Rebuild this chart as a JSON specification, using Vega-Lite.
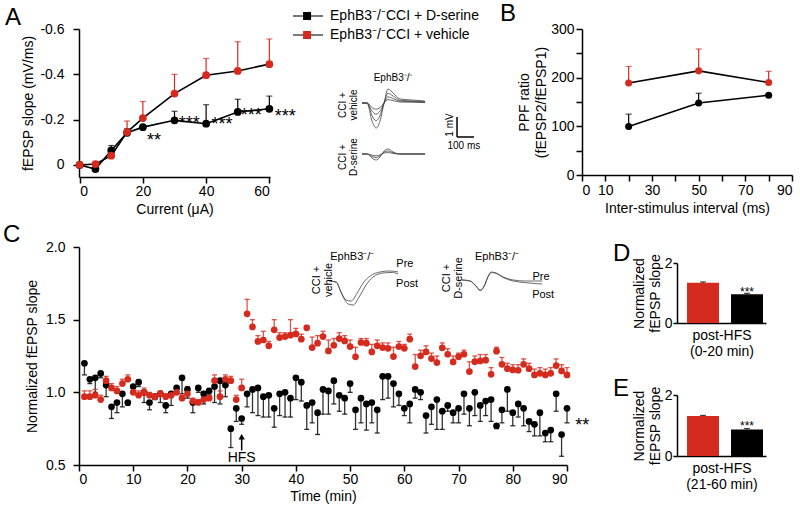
{
  "$schema": "https://vega.github.io/schema/vega-lite/v6.json",
  "autosize": {"type": "none"},
  "padding": {"left": 79, "top": 29, "right": 721, "bottom": 479},
  "background": "white",
  "bounds": "flush",
  "spacing": 218,
  "config": {
    "font": "Liberation Sans",
    "view": {"stroke": null},
    "axis": {"grid": false, "domainColor": "#000", "tickColor": "#000", "labelColor": "#000", "titleColor": "#000", "labelFontSize": 14, "titleFontSize": 14, "titleFontWeight": "normal", "domainWidth": 1.5, "tickWidth": 1.5, "tickSize": 6, "labelFont": "Liberation Sans", "titleFont": "Liberation Sans", "labelOverlap": false},
    "title": {"fontSize": 24, "fontWeight": "normal", "anchor": "start", "frame": "group", "color": "#000", "font": "Liberation Sans", "baseline": "alphabetic"},
    "text": {"font": "Liberation Sans", "color": "#000"}
  },
  "datasets": {
    "io": [
      {"cur": 0, "g": "D-serine", "slope": 0, "top": 0},
      {"cur": 5, "g": "D-serine", "slope": 0.018, "top": 0.018},
      {"cur": 10, "g": "D-serine", "slope": -0.064, "top": -0.086},
      {"cur": 15, "g": "D-serine", "slope": -0.142, "top": -0.16},
      {"cur": 20, "g": "D-serine", "slope": -0.167, "top": -0.17},
      {"cur": 30, "g": "D-serine", "slope": -0.197, "top": -0.237},
      {"cur": 40, "g": "D-serine", "slope": -0.182, "top": -0.266},
      {"cur": 50, "g": "D-serine", "slope": -0.234, "top": -0.29},
      {"cur": 60, "g": "D-serine", "slope": -0.248, "top": -0.304},
      {"cur": 0, "g": "vehicle", "slope": 0, "top": 0},
      {"cur": 5, "g": "vehicle", "slope": -0.004, "top": -0.004},
      {"cur": 10, "g": "vehicle", "slope": -0.041, "top": -0.041},
      {"cur": 15, "g": "vehicle", "slope": -0.145, "top": -0.194},
      {"cur": 20, "g": "vehicle", "slope": -0.207, "top": -0.28},
      {"cur": 30, "g": "vehicle", "slope": -0.315, "top": -0.4},
      {"cur": 40, "g": "vehicle", "slope": -0.396, "top": -0.47},
      {"cur": 50, "g": "vehicle", "slope": -0.415, "top": -0.544},
      {"cur": 60, "g": "vehicle", "slope": -0.445, "top": -0.556}
    ],
    "ppf": [
      {"isi": 20, "g": "D-serine", "r": 99.5, "top": 125},
      {"isi": 50, "g": "D-serine", "r": 148, "top": 168},
      {"isi": 80, "g": "D-serine", "r": 164, "top": 166},
      {"isi": 20, "g": "vehicle", "r": 189, "top": 223},
      {"isi": 50, "g": "vehicle", "r": 214, "top": 259},
      {"isi": 80, "g": "vehicle", "r": 190, "top": 213}
    ],
    "tr": [
      {"id": "v1", "ms": 541, "mv": -1.7}, {"id": "v1", "ms": 571, "mv": -1.7}, {"id": "v1", "ms": 600, "mv": -2.6}, {"id": "v1", "ms": 624, "mv": -2.95}, {"id": "v1", "ms": 647, "mv": -2.6}, {"id": "v1", "ms": 671, "mv": -1.7}, {"id": "v1", "ms": 694, "mv": -1.0}, {"id": "v1", "ms": 724, "mv": -1.2}, {"id": "v1", "ms": 765, "mv": -1.5}, {"id": "v1", "ms": 835, "mv": -1.55}, {"id": "v1", "ms": 912, "mv": -1.6},
      {"id": "v2", "ms": 541, "mv": -1.7}, {"id": "v2", "ms": 571, "mv": -1.7}, {"id": "v2", "ms": 600, "mv": -2.33}, {"id": "v2", "ms": 624, "mv": -2.58}, {"id": "v2", "ms": 647, "mv": -2.33}, {"id": "v2", "ms": 671, "mv": -1.7}, {"id": "v2", "ms": 694, "mv": -1.21}, {"id": "v2", "ms": 724, "mv": -1.35}, {"id": "v2", "ms": 765, "mv": -1.56}, {"id": "v2", "ms": 835, "mv": -1.6}, {"id": "v2", "ms": 912, "mv": -1.64},
      {"id": "v3", "ms": 541, "mv": -1.7}, {"id": "v3", "ms": 571, "mv": -1.7}, {"id": "v3", "ms": 600, "mv": -2.1}, {"id": "v3", "ms": 624, "mv": -2.26}, {"id": "v3", "ms": 647, "mv": -2.1}, {"id": "v3", "ms": 671, "mv": -1.7}, {"id": "v3", "ms": 694, "mv": -1.39}, {"id": "v3", "ms": 724, "mv": -1.48}, {"id": "v3", "ms": 765, "mv": -1.61}, {"id": "v3", "ms": 835, "mv": -1.63}, {"id": "v3", "ms": 912, "mv": -1.66},
      {"id": "v4", "ms": 541, "mv": -1.7}, {"id": "v4", "ms": 571, "mv": -1.7}, {"id": "v4", "ms": 600, "mv": -1.93}, {"id": "v4", "ms": 624, "mv": -2.01}, {"id": "v4", "ms": 647, "mv": -1.93}, {"id": "v4", "ms": 671, "mv": -1.7}, {"id": "v4", "ms": 694, "mv": -1.53}, {"id": "v4", "ms": 724, "mv": -1.58}, {"id": "v4", "ms": 765, "mv": -1.65}, {"id": "v4", "ms": 835, "mv": -1.66}, {"id": "v4", "ms": 912, "mv": -1.68},
      {"id": "d1", "ms": 541, "mv": -4.25}, {"id": "d1", "ms": 571, "mv": -4.25}, {"id": "d1", "ms": 600, "mv": -4.45}, {"id": "d1", "ms": 624, "mv": -4.55}, {"id": "d1", "ms": 647, "mv": -4.4}, {"id": "d1", "ms": 671, "mv": -4.1}, {"id": "d1", "ms": 694, "mv": -4.0}, {"id": "d1", "ms": 724, "mv": -4.15}, {"id": "d1", "ms": 765, "mv": -4.25}, {"id": "d1", "ms": 835, "mv": -4.25}, {"id": "d1", "ms": 912, "mv": -4.25},
      {"id": "d2", "ms": 541, "mv": -4.25}, {"id": "d2", "ms": 571, "mv": -4.25}, {"id": "d2", "ms": 600, "mv": -4.37}, {"id": "d2", "ms": 624, "mv": -4.43}, {"id": "d2", "ms": 647, "mv": -4.34}, {"id": "d2", "ms": 671, "mv": -4.16}, {"id": "d2", "ms": 694, "mv": -4.1}, {"id": "d2", "ms": 724, "mv": -4.19}, {"id": "d2", "ms": 765, "mv": -4.25}, {"id": "d2", "ms": 835, "mv": -4.25}, {"id": "d2", "ms": 912, "mv": -4.25},
      {"id": "d3", "ms": 541, "mv": -4.25}, {"id": "d3", "ms": 571, "mv": -4.25}, {"id": "d3", "ms": 600, "mv": -4.31}, {"id": "d3", "ms": 624, "mv": -4.34}, {"id": "d3", "ms": 647, "mv": -4.3}, {"id": "d3", "ms": 671, "mv": -4.2}, {"id": "d3", "ms": 694, "mv": -4.18}, {"id": "d3", "ms": 724, "mv": -4.22}, {"id": "d3", "ms": 765, "mv": -4.25}, {"id": "d3", "ms": 835, "mv": -4.25}, {"id": "d3", "ms": 912, "mv": -4.25}
    ],
    "ctr": [
      {"id": "vpre", "t": 46.13, "v": 1.766}, {"id": "vpre", "t": 47.42, "v": 1.759}, {"id": "vpre", "t": 48.34, "v": 1.69}, {"id": "vpre", "t": 49.26, "v": 1.635}, {"id": "vpre", "t": 50.18, "v": 1.628}, {"id": "vpre", "t": 51.29, "v": 1.683}, {"id": "vpre", "t": 52.4, "v": 1.752}, {"id": "vpre", "t": 53.69, "v": 1.8}, {"id": "vpre", "t": 55.54, "v": 1.828}, {"id": "vpre", "t": 57.38, "v": 1.835}, {"id": "vpre", "t": 58.86, "v": 1.828},
      {"id": "vpost", "t": 46.13, "v": 1.766}, {"id": "vpost", "t": 47.42, "v": 1.759}, {"id": "vpost", "t": 48.52, "v": 1.67}, {"id": "vpost", "t": 49.63, "v": 1.608}, {"id": "vpost", "t": 50.55, "v": 1.601}, {"id": "vpost", "t": 51.66, "v": 1.656}, {"id": "vpost", "t": 52.95, "v": 1.739}, {"id": "vpost", "t": 54.24, "v": 1.794}, {"id": "vpost", "t": 56.09, "v": 1.821}, {"id": "vpost", "t": 57.75, "v": 1.825}, {"id": "vpost", "t": 58.86, "v": 1.814},
      {"id": "dpre", "t": 70.66, "v": 1.773}, {"id": "dpre", "t": 72.14, "v": 1.766}, {"id": "dpre", "t": 73.25, "v": 1.732}, {"id": "dpre", "t": 73.99, "v": 1.704}, {"id": "dpre", "t": 74.72, "v": 1.732}, {"id": "dpre", "t": 75.46, "v": 1.8}, {"id": "dpre", "t": 76.01, "v": 1.828}, {"id": "dpre", "t": 76.94, "v": 1.821}, {"id": "dpre", "t": 78.23, "v": 1.794}, {"id": "dpre", "t": 80.07, "v": 1.773}, {"id": "dpre", "t": 82.29, "v": 1.766}, {"id": "dpre", "t": 85.42, "v": 1.766},
      {"id": "dpost", "t": 70.66, "v": 1.773}, {"id": "dpost", "t": 72.14, "v": 1.766}, {"id": "dpost", "t": 73.25, "v": 1.728}, {"id": "dpost", "t": 73.99, "v": 1.7}, {"id": "dpost", "t": 74.72, "v": 1.728}, {"id": "dpost", "t": 75.46, "v": 1.796}, {"id": "dpost", "t": 76.01, "v": 1.824}, {"id": "dpost", "t": 76.94, "v": 1.818}, {"id": "dpost", "t": 78.23, "v": 1.79}, {"id": "dpost", "t": 80.07, "v": 1.766}, {"id": "dpost", "t": 82.29, "v": 1.755}, {"id": "dpost", "t": 85.42, "v": 1.745}
    ],
    "ts": [
      {"t":1,"g":"D-serine","v":1.20,"e":1.12},{"t":2,"g":"D-serine","v":1.09,"e":1.06},{"t":3,"g":"D-serine","v":1.10,"e":1.00},{"t":4,"g":"D-serine","v":1.13,"e":1.10},{"t":5,"g":"D-serine","v":1.05,"e":0.97},
      {"t":6,"g":"D-serine","v":0.90,"e":0.82},{"t":7,"g":"D-serine","v":0.93,"e":0.86},{"t":8,"g":"D-serine","v":0.99,"e":0.90},{"t":9,"g":"D-serine","v":0.93,"e":0.91},{"t":10,"g":"D-serine","v":1.04,"e":1.01},
      {"t":11,"g":"D-serine","v":1.07,"e":1.04},{"t":12,"g":"D-serine","v":1.00,"e":0.93},{"t":13,"g":"D-serine","v":0.93,"e":0.88},{"t":14,"g":"D-serine","v":0.97,"e":0.95},{"t":15,"g":"D-serine","v":0.99,"e":0.93},
      {"t":16,"g":"D-serine","v":0.91,"e":0.86},{"t":17,"g":"D-serine","v":0.99,"e":0.91},{"t":18,"g":"D-serine","v":1.03,"e":1.00},{"t":19,"g":"D-serine","v":1.10,"e":0.99},{"t":20,"g":"D-serine","v":1.02,"e":0.96},
      {"t":21,"g":"D-serine","v":0.93,"e":0.86},{"t":22,"g":"D-serine","v":1.03,"e":1.00},{"t":23,"g":"D-serine","v":0.99,"e":0.92},{"t":24,"g":"D-serine","v":1.01,"e":0.98},{"t":25,"g":"D-serine","v":1.04,"e":0.93},
      {"t":26,"g":"D-serine","v":1.08,"e":0.92},{"t":27,"g":"D-serine","v":1.05,"e":0.97},{"t":28,"g":"D-serine","v":0.75,"e":0.62},{"t":29,"g":"D-serine","v":0.89,"e":0.80},{"t":30,"g":"D-serine","v":0.82,"e":0.78},
      {"t":31,"g":"D-serine","v":0.99,"e":0.90},{"t":32,"g":"D-serine","v":1.02,"e":0.86},{"t":33,"g":"D-serine","v":1.03,"e":0.84},{"t":34,"g":"D-serine","v":0.97,"e":0.83},{"t":35,"g":"D-serine","v":0.98,"e":0.83},
      {"t":36,"g":"D-serine","v":0.89,"e":0.76},{"t":37,"g":"D-serine","v":0.99,"e":0.84},{"t":38,"g":"D-serine","v":1.00,"e":0.83},{"t":39,"g":"D-serine","v":0.96,"e":0.83},{"t":40,"g":"D-serine","v":1.10,"e":0.95},
      {"t":41,"g":"D-serine","v":1.07,"e":0.94},{"t":42,"g":"D-serine","v":0.91,"e":0.745},{"t":43,"g":"D-serine","v":0.93,"e":0.79},{"t":44,"g":"D-serine","v":0.86,"e":0.71},{"t":45,"g":"D-serine","v":1.02,"e":0.85},
      {"t":46,"g":"D-serine","v":1.01,"e":0.85},{"t":47,"g":"D-serine","v":1.08,"e":0.92},{"t":48,"g":"D-serine","v":0.98,"e":0.87},{"t":49,"g":"D-serine","v":0.96,"e":0.85},{"t":50,"g":"D-serine","v":1.06,"e":1.00},
      {"t":51,"g":"D-serine","v":0.88,"e":0.745},{"t":52,"g":"D-serine","v":0.96,"e":0.79},{"t":53,"g":"D-serine","v":0.92,"e":0.74},{"t":54,"g":"D-serine","v":0.93,"e":0.79},{"t":55,"g":"D-serine","v":0.88,"e":0.72},
      {"t":56,"g":"D-serine","v":1.11,"e":0.95},{"t":57,"g":"D-serine","v":1.11,"e":0.96},{"t":58,"g":"D-serine","v":1.06,"e":0.90},{"t":59,"g":"D-serine","v":0.99,"e":0.91},{"t":60,"g":"D-serine","v":0.89,"e":0.84},
      {"t":61,"g":"D-serine","v":0.92,"e":0.79},{"t":62,"g":"D-serine","v":1.02,"e":0.96},{"t":63,"g":"D-serine","v":1.00,"e":0.95},{"t":64,"g":"D-serine","v":0.84,"e":0.72},{"t":65,"g":"D-serine","v":0.90,"e":0.78},
      {"t":66,"g":"D-serine","v":0.95,"e":0.745},{"t":67,"g":"D-serine","v":0.87,"e":0.745},{"t":68,"g":"D-serine","v":0.91,"e":0.87},{"t":69,"g":"D-serine","v":0.86,"e":0.79},{"t":70,"g":"D-serine","v":0.89,"e":0.79},
      {"t":71,"g":"D-serine","v":0.99,"e":0.85},{"t":72,"g":"D-serine","v":0.89,"e":0.77},{"t":73,"g":"D-serine","v":1.00,"e":0.84},{"t":74,"g":"D-serine","v":0.91,"e":0.80},{"t":75,"g":"D-serine","v":0.94,"e":0.84},
      {"t":76,"g":"D-serine","v":0.95,"e":0.80},{"t":77,"g":"D-serine","v":0.77,"e":0.75},{"t":78,"g":"D-serine","v":0.88,"e":0.79},{"t":79,"g":"D-serine","v":1.02,"e":0.87},{"t":80,"g":"D-serine","v":0.86,"e":0.77},
      {"t":81,"g":"D-serine","v":0.92,"e":0.83},{"t":82,"g":"D-serine","v":0.89,"e":0.77},{"t":83,"g":"D-serine","v":0.80,"e":0.73},{"t":84,"g":"D-serine","v":0.78,"e":0.70},{"t":85,"g":"D-serine","v":0.86,"e":0.70},
      {"t":86,"g":"D-serine","v":0.72,"e":0.66},{"t":87,"g":"D-serine","v":0.74,"e":0.66},{"t":88,"g":"D-serine","v":0.99,"e":0.87},{"t":89,"g":"D-serine","v":0.71,"e":0.56},{"t":90,"g":"D-serine","v":0.89,"e":0.79},
      {"t":1,"g":"vehicle","v":0.97,"e":1.01},{"t":2,"g":"vehicle","v":0.97,"e":1.01},{"t":3,"g":"vehicle","v":0.98,"e":1.02},{"t":4,"g":"vehicle","v":0.95,"e":0.98},{"t":5,"g":"vehicle","v":1.08,"e":1.11},
      {"t":6,"g":"vehicle","v":1.03,"e":1.06},{"t":7,"g":"vehicle","v":1.01,"e":1.04},{"t":8,"g":"vehicle","v":1.06,"e":1.09},{"t":9,"g":"vehicle","v":1.09,"e":1.12},{"t":10,"g":"vehicle","v":1.00,"e":1.03},
      {"t":11,"g":"vehicle","v":0.98,"e":1.01},{"t":12,"g":"vehicle","v":1.00,"e":1.03},{"t":13,"g":"vehicle","v":0.98,"e":1.00},{"t":14,"g":"vehicle","v":0.97,"e":0.99},{"t":15,"g":"vehicle","v":0.99,"e":1.01},
      {"t":16,"g":"vehicle","v":0.97,"e":0.99},{"t":17,"g":"vehicle","v":0.98,"e":1.00},{"t":18,"g":"vehicle","v":1.00,"e":1.02},{"t":19,"g":"vehicle","v":0.96,"e":0.98},{"t":20,"g":"vehicle","v":0.99,"e":1.04},
      {"t":21,"g":"vehicle","v":0.94,"e":0.96},{"t":22,"g":"vehicle","v":0.93,"e":0.95},{"t":23,"g":"vehicle","v":0.95,"e":0.97},{"t":24,"g":"vehicle","v":0.96,"e":0.98},{"t":25,"g":"vehicle","v":1.08,"e":1.12},
      {"t":26,"g":"vehicle","v":0.97,"e":1.01},{"t":27,"g":"vehicle","v":1.09,"e":1.12},{"t":28,"g":"vehicle","v":1.08,"e":1.11},{"t":29,"g":"vehicle","v":0.95,"e":0.98},{"t":30,"g":"vehicle","v":1.03,"e":1.09},
      {"t":31,"g":"vehicle","v":1.54,"e":1.64},{"t":32,"g":"vehicle","v":1.45,"e":1.50},{"t":33,"g":"vehicle","v":1.35,"e":1.39},{"t":34,"g":"vehicle","v":1.36,"e":1.42},{"t":35,"g":"vehicle","v":1.32,"e":1.35},
      {"t":36,"g":"vehicle","v":1.43,"e":1.50},{"t":37,"g":"vehicle","v":1.377,"e":1.41},{"t":38,"g":"vehicle","v":1.384,"e":1.41},{"t":39,"g":"vehicle","v":1.393,"e":1.50},{"t":40,"g":"vehicle","v":1.402,"e":1.44},
      {"t":41,"g":"vehicle","v":1.366,"e":1.40},{"t":42,"g":"vehicle","v":1.444,"e":1.46},{"t":43,"g":"vehicle","v":1.308,"e":1.38},{"t":44,"g":"vehicle","v":1.338,"e":1.39},{"t":45,"g":"vehicle","v":1.384,"e":1.42},
      {"t":46,"g":"vehicle","v":1.285,"e":1.36},{"t":47,"g":"vehicle","v":1.324,"e":1.37},{"t":48,"g":"vehicle","v":1.37,"e":1.41},{"t":49,"g":"vehicle","v":1.354,"e":1.39},{"t":50,"g":"vehicle","v":1.315,"e":1.36},
      {"t":51,"g":"vehicle","v":1.244,"e":1.31},{"t":52,"g":"vehicle","v":1.343,"e":1.37},{"t":53,"g":"vehicle","v":1.338,"e":1.37},{"t":54,"g":"vehicle","v":1.278,"e":1.33},{"t":55,"g":"vehicle","v":1.32,"e":1.36},
      {"t":56,"g":"vehicle","v":1.308,"e":1.34},{"t":57,"g":"vehicle","v":1.303,"e":1.34},{"t":58,"g":"vehicle","v":1.246,"e":1.31},{"t":59,"g":"vehicle","v":1.315,"e":1.35},{"t":60,"g":"vehicle","v":1.303,"e":1.33},
      {"t":61,"g":"vehicle","v":1.366,"e":1.40},{"t":62,"g":"vehicle","v":1.177,"e":1.26},{"t":63,"g":"vehicle","v":1.251,"e":1.29},{"t":64,"g":"vehicle","v":1.278,"e":1.32},{"t":65,"g":"vehicle","v":1.232,"e":1.27},
      {"t":66,"g":"vehicle","v":1.205,"e":1.25},{"t":67,"g":"vehicle","v":1.306,"e":1.34},{"t":68,"g":"vehicle","v":1.262,"e":1.30},{"t":69,"g":"vehicle","v":1.209,"e":1.25},{"t":70,"g":"vehicle","v":1.244,"e":1.27},
      {"t":71,"g":"vehicle","v":1.262,"e":1.29},{"t":72,"g":"vehicle","v":1.143,"e":1.21},{"t":73,"g":"vehicle","v":1.211,"e":1.25},{"t":74,"g":"vehicle","v":1.216,"e":1.26},{"t":75,"g":"vehicle","v":1.221,"e":1.26},
      {"t":76,"g":"vehicle","v":1.124,"e":1.17},{"t":77,"g":"vehicle","v":1.283,"e":1.31},{"t":78,"g":"vehicle","v":1.193,"e":1.24},{"t":79,"g":"vehicle","v":1.163,"e":1.20},{"t":80,"g":"vehicle","v":1.154,"e":1.19},
      {"t":81,"g":"vehicle","v":1.152,"e":1.19},{"t":82,"g":"vehicle","v":1.193,"e":1.23},{"t":83,"g":"vehicle","v":1.163,"e":1.20},{"t":84,"g":"vehicle","v":1.12,"e":1.16},{"t":85,"g":"vehicle","v":1.131,"e":1.17},
      {"t":86,"g":"vehicle","v":1.12,"e":1.16},{"t":87,"g":"vehicle","v":1.131,"e":1.17},{"t":88,"g":"vehicle","v":1.184,"e":1.23},{"t":89,"g":"vehicle","v":1.147,"e":1.19},{"t":90,"g":"vehicle","v":1.12,"e":1.17}
    ],
    "bars": [
      {"panel": "D", "g": "vehicle", "val": 1.34, "err": 1.37},
      {"panel": "D", "g": "D-serine", "val": 0.96, "err": 0.99},
      {"panel": "E", "g": "vehicle", "val": 1.31, "err": 1.33},
      {"panel": "E", "g": "D-serine", "val": 0.87, "err": 0.9}
    ]
  },
  "vconcat": [
    {
      "hconcat": [
        {
          "width": 191, "height": 148,
          "title": {"text": "A", "dx": -74, "offset": -8},
          "layer": [
            {"data": {"name": "io"}, "mark": {"type": "rule", "strokeWidth": 1.2}, "encoding": {
              "x": {"field": "cur", "type": "quantitative", "scale": {"domain": [-0.2, 60.2], "nice": false}, "axis": {"values": [0, 10, 20, 30, 40, 50, 60], "title": "Current (μA)", "labelPadding": 1, "titlePadding": 4}},
              "y": {"field": "slope", "type": "quantitative", "scale": {"domain": [0.053, -0.6], "nice": false, "zero": false}, "axis": {"values": [0, -0.1, -0.2, -0.3, -0.4, -0.5, -0.6], "labelExpr": "datum.value == 0 ? '0' : (round(abs(datum.value) * 10) % 2 == 0 ? '-' + format(abs(datum.value), '.1f') : '')", "title": "fEPSP slope (mV/ms)", "labelPadding": 9, "titlePadding": 4}},
              "y2": {"field": "top"},
              "stroke": {"field": "g", "type": "nominal", "scale": {"domain": ["D-serine", "vehicle"], "range": ["#000000", "#d52b1e"]}, "legend": null}}},
            {"data": {"name": "io"}, "mark": {"type": "tick", "orient": "horizontal", "size": 6, "thickness": 1.2}, "encoding": {"x": {"field": "cur", "type": "quantitative"}, "y": {"field": "top", "type": "quantitative"}, "fill": {"field": "g", "type": "nominal", "scale": {"domain": ["D-serine", "vehicle"], "range": ["#000000", "#d52b1e"]}, "legend": null}}},
            {"data": {"name": "io"}, "mark": {"type": "line", "color": "#000", "strokeWidth": 1.6}, "encoding": {"x": {"field": "cur", "type": "quantitative"}, "y": {"field": "slope", "type": "quantitative"}, "detail": {"field": "g", "type": "nominal"}}},
            {"data": {"name": "io"}, "mark": {"type": "point", "filled": true, "size": 60, "opacity": 1}, "encoding": {"x": {"field": "cur", "type": "quantitative"}, "y": {"field": "slope", "type": "quantitative"}, "color": {"field": "g", "type": "nominal", "scale": {"domain": ["D-serine", "vehicle"], "range": ["#000000", "#d52b1e"]}, "legend": null}}},
            {"data": {"values": [{"s": "**", "x": 23.5, "y": -0.13}, {"s": "***", "x": 34.7, "y": -0.204}, {"s": "***", "x": 45, "y": -0.2}, {"s": "***", "x": 54.3, "y": -0.24}, {"s": "***", "x": 65, "y": -0.235}]}, "mark": {"type": "text", "fontSize": 18, "baseline": "middle", "dy": 5}, "encoding": {"x": {"field": "x", "type": "quantitative"}, "y": {"field": "y", "type": "quantitative"}, "text": {"field": "s"}}}
          ]
        },
        {
          "width": 312, "height": 148,
          "layer": [
            {"data": {"name": "tr"}, "mark": {"type": "line", "strokeWidth": 0.8, "color": "#444", "interpolate": "monotone"}, "encoding": {"x": {"field": "ms", "type": "quantitative", "scale": {"domain": [0, 1835], "nice": false}, "axis": null}, "y": {"field": "mv", "type": "quantitative", "scale": {"domain": [-5.4, 2], "nice": false, "zero": false}, "axis": null}, "detail": {"field": "id", "type": "nominal"}}},
            {"data": {"values": [{}]}, "mark": {"type": "rule", "strokeWidth": 1.5, "color": "#000"}, "encoding": {"x": {"datum": 1100}, "y": {"datum": -2.4}, "y2": {"datum": -3.4}}},
            {"data": {"values": [{}]}, "mark": {"type": "rule", "strokeWidth": 1.5, "color": "#000"}, "encoding": {"x": {"datum": 1100}, "x2": {"datum": 1200}, "y": {"datum": -3.4}}},
            {"data": {"values": [{}]}, "mark": {"type": "text", "fontSize": 10, "baseline": "middle"}, "encoding": {"x": {"datum": 724}, "y": {"datum": -0.45}, "text": {"value": "EphB3⁻/⁻"}}},
            {"data": {"values": [{}]}, "mark": {"type": "text", "fontSize": 10, "baseline": "middle", "angle": 270, "lineHeight": 11}, "encoding": {"x": {"datum": 429}, "y": {"datum": -1.8}, "text": {"value": ["CCI +", "vehicle"]}}},
            {"data": {"values": [{}]}, "mark": {"type": "text", "fontSize": 10, "baseline": "middle", "angle": 270, "lineHeight": 11}, "encoding": {"x": {"datum": 429}, "y": {"datum": -4.4}, "text": {"value": ["CCI +", "D-serine"]}}},
            {"data": {"values": [{}]}, "mark": {"type": "text", "fontSize": 10, "baseline": "middle", "angle": 270}, "encoding": {"x": {"datum": 1059}, "y": {"datum": -2.8}, "text": {"value": "1 mV"}}},
            {"data": {"values": [{}]}, "mark": {"type": "text", "fontSize": 10, "baseline": "middle"}, "encoding": {"x": {"datum": 1140}, "y": {"datum": -3.85}, "text": {"value": "100 ms"}}},
            {"data": {"values": [{}]}, "mark": {"type": "rule", "strokeWidth": 1.2, "color": "#222"}, "encoding": {"x": {"datum": 135}, "x2": {"datum": 312}, "y": {"datum": 2.65}}},
            {"data": {"values": [{}]}, "mark": {"type": "point", "shape": "square", "filled": true, "size": 64, "color": "#000", "opacity": 1}, "encoding": {"x": {"datum": 218}, "y": {"datum": 2.65}}},
            {"data": {"values": [{}]}, "mark": {"type": "text", "fontSize": 14, "baseline": "middle", "align": "left"}, "encoding": {"x": {"datum": 353}, "y": {"datum": 2.65}, "text": {"value": "EphB3⁻/⁻CCI + D-serine"}}},
            {"data": {"values": [{}]}, "mark": {"type": "rule", "strokeWidth": 1.2, "color": "#222"}, "encoding": {"x": {"datum": 135}, "x2": {"datum": 312}, "y": {"datum": 1.7}}},
            {"data": {"values": [{}]}, "mark": {"type": "point", "shape": "square", "filled": true, "size": 64, "color": "#d52b1e", "opacity": 1}, "encoding": {"x": {"datum": 218}, "y": {"datum": 1.7}}},
            {"data": {"values": [{}]}, "mark": {"type": "text", "fontSize": 14, "baseline": "middle", "align": "left"}, "encoding": {"x": {"datum": 353}, "y": {"datum": 1.7}, "text": {"value": "EphB3⁻/⁻CCI + vehicle"}}}
          ]
        },
        {
          "width": 210, "height": 146,
          "title": {"text": "B", "dx": -82, "offset": -4},
          "data": {"name": "ppf"},
          "encoding": {
            "x": {"field": "isi", "type": "quantitative", "scale": {"domain": [0, 90], "nice": false}, "axis": {"values": [0, 10, 20, 30, 40, 50, 60, 70, 80, 90], "labelExpr": "indexof([0, 10, 30, 50, 70, 90], datum.value) >= 0 ? datum.label : ''", "title": "Inter-stimulus interval (ms)", "labelPadding": 2, "titlePadding": 4}},
            "y": {"field": "r", "type": "quantitative", "scale": {"domain": [0, 300], "nice": false}, "axis": {"values": [0, 50, 100, 150, 200, 250, 300], "labelExpr": "datum.value % 100 == 0 ? datum.label : ''", "title": ["PPF ratio", "(fEPSP2/fEPSP1)"], "labelPadding": 2, "titlePadding": 2, "titleLineHeight": 17}}
          },
          "layer": [
            {"mark": {"type": "rule", "strokeWidth": 1.2}, "encoding": {"y2": {"field": "top"}, "stroke": {"field": "g", "type": "nominal", "legend": null}}},
            {"mark": {"type": "tick", "orient": "horizontal", "size": 6, "thickness": 1.2}, "encoding": {"y": {"field": "top", "type": "quantitative"}, "fill": {"field": "g", "type": "nominal", "legend": null}}},
            {"mark": {"type": "line", "color": "#000", "strokeWidth": 1.6}, "encoding": {"detail": {"field": "g", "type": "nominal"}}},
            {"mark": {"type": "point", "filled": true, "size": 50, "opacity": 1}, "encoding": {"color": {"field": "g", "type": "nominal", "legend": null}}}
          ]
        }
      ],
      "spacing": 0,
      "bounds": "flush"
    },
    {
      "hconcat": [
        {
          "width": 488, "height": 218,
          "title": {"text": "C", "dx": -76, "offset": -7},
          "layer": [
            {"data": {"name": "ts"}, "mark": {"type": "rule", "strokeWidth": 1.3, "strokeOpacity": 0.8}, "encoding": {
              "x": {"field": "t", "type": "quantitative", "scale": {"domain": [0, 90], "nice": false}, "axis": {"values": [0, 10, 20, 30, 40, 50, 60, 70, 80, 90], "title": "Time (min)", "labelPadding": 1, "titlePadding": 3}},
              "y": {"field": "v", "type": "quantitative", "scale": {"domain": [0.5, 2.0], "nice": false, "zero": false}, "axis": {"values": [0.5, 0.75, 1.0, 1.25, 1.5, 1.75, 2.0], "labelExpr": "(datum.value * 2) % 1 == 0 ? format(datum.value, '.1f') : ''", "title": "Normalized fEPSP slope", "labelPadding": 8, "titlePadding": 6}},
              "y2": {"field": "e"},
              "stroke": {"field": "g", "type": "nominal", "legend": null}}},
            {"data": {"name": "ts"}, "mark": {"type": "tick", "orient": "horizontal", "size": 5, "thickness": 1.3, "opacity": 0.8}, "encoding": {"x": {"field": "t", "type": "quantitative"}, "y": {"field": "e", "type": "quantitative"}, "fill": {"field": "g", "type": "nominal", "legend": null}}},
            {"data": {"name": "ts"}, "mark": {"type": "point", "filled": true, "size": 45, "opacity": 1}, "encoding": {"x": {"field": "t", "type": "quantitative"}, "y": {"field": "v", "type": "quantitative"}, "color": {"field": "g", "type": "nominal", "legend": null}}},
            {"data": {"name": "ctr"}, "mark": {"type": "line", "strokeWidth": 0.8, "color": "#444", "interpolate": "monotone"}, "encoding": {"x": {"field": "t", "type": "quantitative"}, "y": {"field": "v", "type": "quantitative"}, "detail": {"field": "id", "type": "nominal"}}},
            {"data": {"values": [{}]}, "mark": {"type": "rule", "strokeWidth": 1.5, "color": "#000"}, "encoding": {"x": {"datum": 30}, "y": {"datum": 0.6}, "y2": {"datum": 0.69}}},
            {"data": {"values": [{}]}, "mark": {"type": "point", "shape": "triangle-up", "filled": true, "size": 40, "color": "#000", "opacity": 1}, "encoding": {"x": {"datum": 30}, "y": {"datum": 0.695}}},
            {"data": {"values": [{}]}, "mark": {"type": "text", "fontSize": 14, "baseline": "middle"}, "encoding": {"x": {"datum": 30}, "y": {"datum": 0.548}, "text": {"value": "HFS"}}},
            {"data": {"values": [{}]}, "mark": {"type": "text", "fontSize": 18, "baseline": "middle", "dy": 5}, "encoding": {"x": {"datum": 92.8}, "y": {"datum": 0.8}, "text": {"value": "**"}}},
            {"data": {"values": [{}]}, "mark": {"type": "text", "fontSize": 11, "baseline": "middle", "angle": 270, "lineHeight": 12}, "encoding": {"x": {"datum": 43.9}, "y": {"datum": 1.773}, "text": {"value": ["CCI +", "vehicle"]}}},
            {"data": {"values": [{}]}, "mark": {"type": "text", "fontSize": 11, "baseline": "middle", "angle": 270, "lineHeight": 12}, "encoding": {"x": {"datum": 67.9}, "y": {"datum": 1.787}, "text": {"value": ["CCI +", "D-serine"]}}},
            {"data": {"values": [{}]}, "mark": {"type": "text", "fontSize": 11, "baseline": "middle"}, "encoding": {"x": {"datum": 50.4}, "y": {"datum": 1.93}, "text": {"value": "EphB3⁻/⁻"}}},
            {"data": {"values": [{}]}, "mark": {"type": "text", "fontSize": 11, "baseline": "middle"}, "encoding": {"x": {"datum": 77.1}, "y": {"datum": 1.93}, "text": {"value": "EphB3⁻/⁻"}}},
            {"data": {"values": [{}]}, "mark": {"type": "text", "fontSize": 11, "baseline": "middle"}, "encoding": {"x": {"datum": 60.1}, "y": {"datum": 1.883}, "text": {"value": "Pre"}}},
            {"data": {"values": [{}]}, "mark": {"type": "text", "fontSize": 11, "baseline": "middle"}, "encoding": {"x": {"datum": 60.5}, "y": {"datum": 1.745}, "text": {"value": "Post"}}},
            {"data": {"values": [{}]}, "mark": {"type": "text", "fontSize": 11, "baseline": "middle"}, "encoding": {"x": {"datum": 85.2}, "y": {"datum": 1.794}, "text": {"value": "Pre"}}},
            {"data": {"values": [{}]}, "mark": {"type": "text", "fontSize": 11, "baseline": "middle"}, "encoding": {"x": {"datum": 85.6}, "y": {"datum": 1.67}, "text": {"value": "Post"}}}
          ]
        },
        {
          "vconcat": [
            {"width": 89, "height": 6, "data": {"values": [{}]}, "mark": {"type": "text", "text": ""}},
            {
              "vconcat": [
                {
                  "width": 89, "height": 60,
                  "title": {"text": "D", "dx": -64, "offset": -12},
                  "layer": [
                    {"data": {"name": "bars"}, "transform": [{"filter": "datum.panel == 'D'"}], "mark": {"type": "bar"}, "encoding": {
                      "x": {"field": "g", "type": "nominal", "sort": ["vehicle", "D-serine"], "scale": {"domain": ["vehicle", "D-serine"], "paddingInner": 0.273, "paddingOuter": 0.148, "align": 0.77}, "axis": {"title": ["post-HFS", "(0-20 min)"], "labels": false, "ticks": false, "titlePadding": 5, "titleLineHeight": 16}},
                      "y": {"field": "val", "type": "quantitative", "scale": {"domain": [0, 2], "nice": false}, "axis": {"values": [0, 1, 2], "format": "d", "title": ["Normalized", "fEPSP slope"], "tickSize": 4, "labelPadding": 1, "titlePadding": 2, "titleLineHeight": 16}},
                      "color": {"field": "g", "type": "nominal", "legend": null}}},
                    {"data": {"name": "bars"}, "transform": [{"filter": "datum.panel == 'D'"}], "mark": {"type": "rule", "strokeWidth": 1.2, "color": "#000"}, "encoding": {"x": {"field": "g", "type": "nominal"}, "y": {"field": "val", "type": "quantitative"}, "y2": {"field": "err"}}},
                    {"data": {"name": "bars"}, "transform": [{"filter": "datum.panel == 'D'"}], "mark": {"type": "tick", "orient": "horizontal", "size": 6, "thickness": 1.2, "color": "#000"}, "encoding": {"x": {"field": "g", "type": "nominal"}, "y": {"field": "err", "type": "quantitative"}}},
                    {"data": {"values": [{"g": "D-serine", "y": 1.12, "s": "***"}]}, "mark": {"type": "text", "fontSize": 12, "baseline": "middle", "dy": 3}, "encoding": {"x": {"field": "g", "type": "nominal"}, "y": {"field": "y", "type": "quantitative"}, "text": {"field": "s"}}}
                  ]
                },
                {
                  "width": 89, "height": 61,
                  "title": {"text": "E", "dx": -64, "offset": -15},
                  "layer": [
                    {"data": {"name": "bars"}, "transform": [{"filter": "datum.panel == 'E'"}], "mark": {"type": "bar"}, "encoding": {
                      "x": {"field": "g", "type": "nominal", "sort": ["vehicle", "D-serine"], "scale": {"domain": ["vehicle", "D-serine"], "paddingInner": 0.273, "paddingOuter": 0.148, "align": 0.77}, "axis": {"title": ["post-HFS", "(21-60 min)"], "labels": false, "ticks": false, "titlePadding": 5, "titleLineHeight": 16}},
                      "y": {"field": "val", "type": "quantitative", "scale": {"domain": [0, 2], "nice": false}, "axis": {"values": [0, 1, 2], "format": "d", "title": ["Normalized", "fEPSP slope"], "tickSize": 4, "labelPadding": 1, "titlePadding": 2, "titleLineHeight": 16}},
                      "color": {"field": "g", "type": "nominal", "legend": null}}},
                    {"data": {"name": "bars"}, "transform": [{"filter": "datum.panel == 'E'"}], "mark": {"type": "rule", "strokeWidth": 1.2, "color": "#000"}, "encoding": {"x": {"field": "g", "type": "nominal"}, "y": {"field": "val", "type": "quantitative"}, "y2": {"field": "err"}}},
                    {"data": {"name": "bars"}, "transform": [{"filter": "datum.panel == 'E'"}], "mark": {"type": "tick", "orient": "horizontal", "size": 6, "thickness": 1.2, "color": "#000"}, "encoding": {"x": {"field": "g", "type": "nominal"}, "y": {"field": "err", "type": "quantitative"}}},
                    {"data": {"values": [{"g": "D-serine", "y": 1.09, "s": "***"}]}, "mark": {"type": "text", "fontSize": 12, "baseline": "middle", "dy": 3}, "encoding": {"x": {"field": "g", "type": "nominal"}, "y": {"field": "y", "type": "quantitative"}, "text": {"field": "s"}}}
                  ]
                }
              ],
              "spacing": 72,
              "bounds": "flush"
            }
          ],
          "spacing": 10,
          "bounds": "flush"
        }
      ],
      "spacing": 110,
      "bounds": "flush"
    }
  ]
}
